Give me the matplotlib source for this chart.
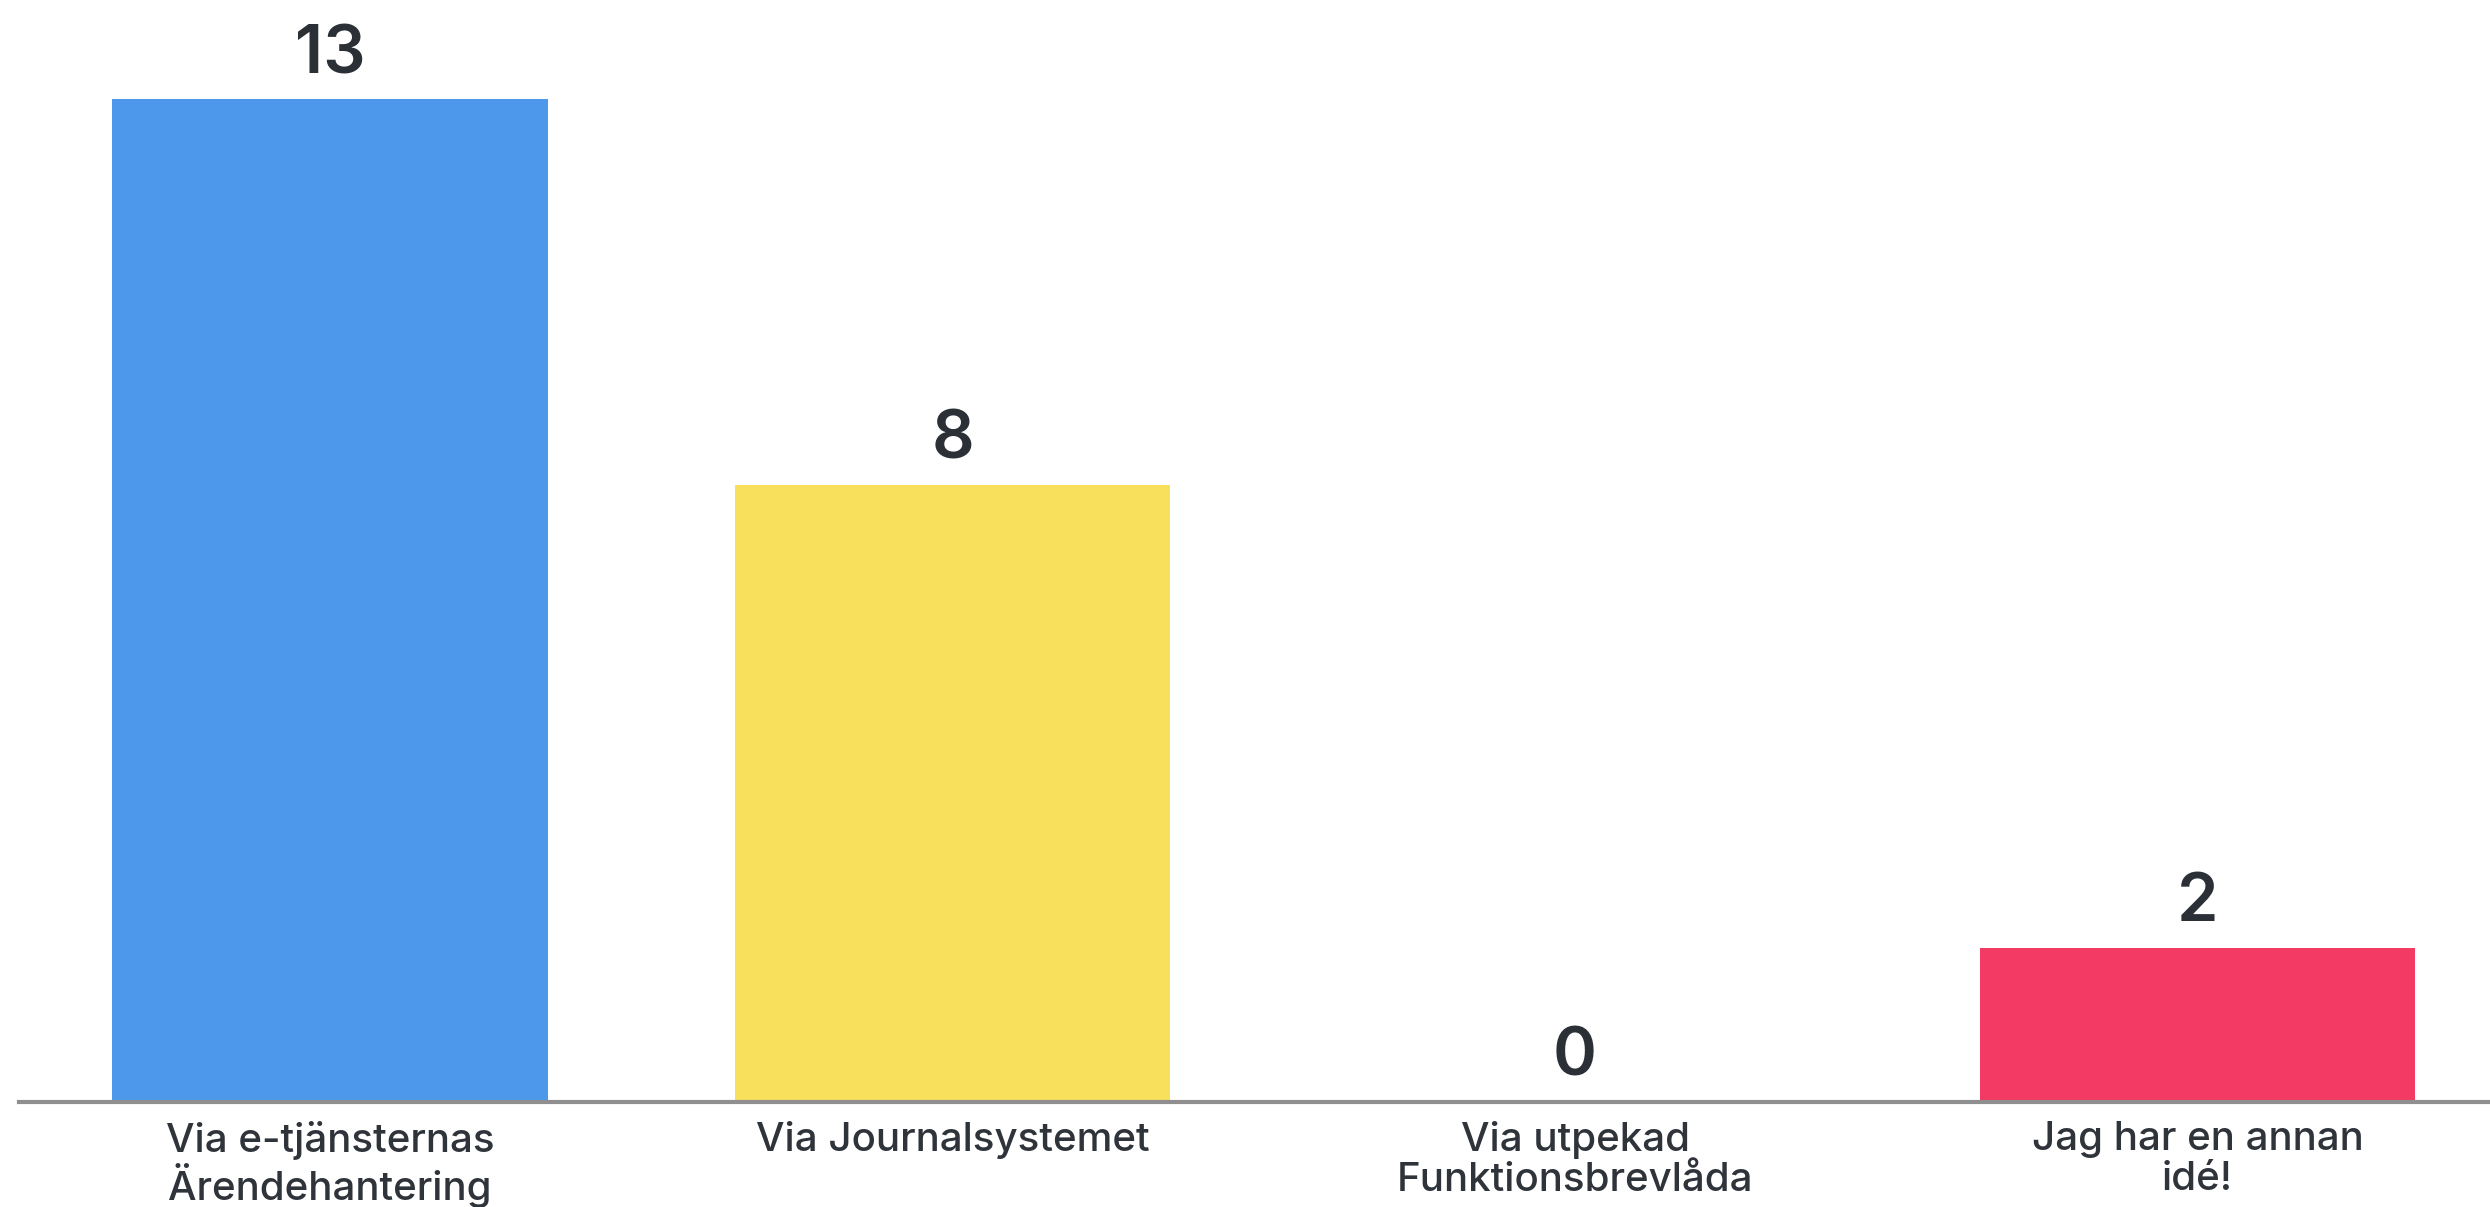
import matplotlib.pyplot as plt

# Data
categories = ['Via e-tjänsternas\nÄrendehantering', 'Via Journalsystemet',
              'Via utpekad\nFunktionsbrevlåda', 'Jag har en annan\nidé!']
values = [13, 8, 0, 2]
colors = ['#4E98EC', '#F8E05C', '#9AA0A6', '#F23A65']

plt.rcParams['font.family'] = ['Inter', 'DejaVu Sans']

fig = plt.figure(figsize=(24.9, 12.07), dpi=100)
ax = fig.add_axes([19 / 2490, 105 / 1207, (2490 - 19) / 2490, 1102 / 1207])

x = list(range(len(values)))
ax.bar(x, values, width=0.70, color=colors, zorder=2)

for xi, v in zip(x, values):
    ax.annotate(str(v), (xi, v), xytext=(0, 19), textcoords='offset points',
                ha='center', va='baseline', fontsize=48, fontweight=600,
                color='#2B2F36')

ax.set_xlim(-0.5, 3.47)
ax.set_ylim(0, 14.29)
ax.set_xticks(x)
ax.set_xticklabels(categories, fontsize=29, fontweight=500, color='#2F333A',
                   linespacing=1.08)
ax.tick_params(axis='x', length=0, pad=14)
ax.set_yticks([])

for side in ['top', 'right', 'left']:
    ax.spines[side].set_visible(False)
ax.spines['bottom'].set_color('#8F8F8F')
ax.spines['bottom'].set_linewidth(3)
ax.spines['bottom'].set_zorder(3)

fig.savefig('out.png', dpi=100)
